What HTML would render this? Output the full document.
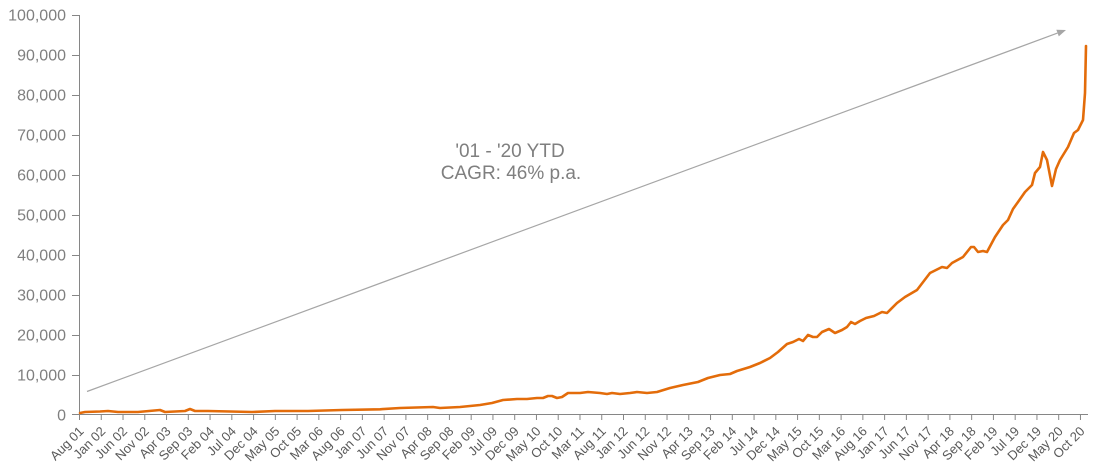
<!DOCTYPE html>
<html>
<head>
<meta charset="utf-8">
<style>
  html, body { margin: 0; padding: 0; background: #ffffff; }
  svg { display: block; }
  text { font-family: "Liberation Sans", Arial, sans-serif; }
</style>
</head>
<body>
<svg width="1101" height="463" viewBox="0 0 1101 463" xmlns="http://www.w3.org/2000/svg">
  <rect width="1101" height="463" fill="#ffffff"/>

  <!-- Y axis labels -->
  <g fill="#7f7f7f" font-size="16" text-anchor="end">
    <text x="66" y="20.5">100,000</text>
    <text x="66" y="60.5">90,000</text>
    <text x="66" y="100.5">80,000</text>
    <text x="66" y="140.5">70,000</text>
    <text x="66" y="180.5">60,000</text>
    <text x="66" y="220.5">50,000</text>
    <text x="66" y="260.5">40,000</text>
    <text x="66" y="300.5">30,000</text>
    <text x="66" y="340.5">20,000</text>
    <text x="66" y="380.5">10,000</text>
    <text x="66" y="420.5">0</text>
  </g>

  <!-- Axes -->
  <g stroke="#868686" stroke-width="1" fill="none">
    <line x1="79.5" y1="15" x2="79.5" y2="415"/>
    <line x1="79" y1="414.5" x2="1088" y2="414.5"/>
    <line x1="72" y1="15.5" x2="79.5" y2="15.5"/>
    <line x1="72" y1="55.5" x2="79.5" y2="55.5"/>
    <line x1="72" y1="95.5" x2="79.5" y2="95.5"/>
    <line x1="72" y1="135.5" x2="79.5" y2="135.5"/>
    <line x1="72" y1="175.5" x2="79.5" y2="175.5"/>
    <line x1="72" y1="215.5" x2="79.5" y2="215.5"/>
    <line x1="72" y1="255.5" x2="79.5" y2="255.5"/>
    <line x1="72" y1="295.5" x2="79.5" y2="295.5"/>
    <line x1="72" y1="335.5" x2="79.5" y2="335.5"/>
    <line x1="72" y1="375.5" x2="79.5" y2="375.5"/>
    <line x1="72" y1="414.5" x2="79.5" y2="414.5"/>
  </g>

  <!-- X ticks -->
  <g id="xticks" stroke="#868686" stroke-width="1"></g>
  <!-- X labels -->
  <g id="xlabels" fill="#595959" font-size="13" text-anchor="end"></g>

  <!-- Arrow -->
  <line x1="87" y1="391.5" x2="1057.5" y2="33.1" stroke="#a6a6a6" stroke-width="1.2"/>
  <polygon points="1066,30 1058.8,36.4 1056.3,29.8" fill="#a6a6a6"/>

  <!-- Annotation -->
  <g fill="#7f7f7f" font-size="19" text-anchor="middle">
    <text x="510" y="157">'01 - '20 YTD</text>
    <text x="511" y="179">CAGR: 46% p.a.</text>
  </g>

  <!-- Series -->
  <polyline fill="none" stroke="#e36c0a" stroke-width="2.6" stroke-linejoin="round" stroke-linecap="round"
    points="80,413 85,412 100,411.5 108,411 118,412 138,412 160,410 165,412 185,411 190,409 195,411 208,411 252,412 275,411 308,411 342,410 380,409.3 400,408 433,407 440,408 460,407 480,405 492,403 503,400 517,399 527,399 537,398 543,398 548,396 552,396 557,398 562,397 568,393 580,393 588,392 600,393 607,394 612,393 620,394 630,393 637,392 647,393 657,392 670,388 683,385 698,382 708,378 720,375 730,374 737,371 750,367 760,363 770,358 778,352 787,344 793,342 799,339 803,341 808,335 813,337 817,337 822,332 829,329 835,333 842,330 847,327 851,322 855,324 860,321 866,318 874,316 882,312 887,313 897,303 905,297 917,290 930,273 942,267 947,268 952,263 963,257 971,247 974,247 978,252 983,251 987,252 995,237 1003,225 1008,220 1013,209 1018,202 1025,192 1027,190 1032,185 1035,173 1040,167 1043,152 1047,160 1052,186 1056,169 1060,160 1068,147 1074,133 1078,130 1083,120 1085,93 1086,46"/>

  <script>
    (function(){
      var months = ["Jan","Feb","Mar","Apr","May","Jun","Jul","Aug","Sep","Oct","Nov","Dec"];
      var ns = "http://www.w3.org/2000/svg";
      var ticks = document.getElementById("xticks");
      var labels = document.getElementById("xlabels");
      for (var i = 0; i <= 46; i++) {
        var m = 7 + i*5;
        var yr = 1 + Math.floor(m/12);
        var mo = m % 12;
        var x = 79.5 + i*21.76;
        var t = document.createElementNS(ns, "line");
        t.setAttribute("x1", x); t.setAttribute("x2", x);
        t.setAttribute("y1", 414.5); t.setAttribute("y2", 420);
        ticks.appendChild(t);
        var tx = document.createElementNS(ns, "text");
        var ax = x + 5, ay = 432;
        tx.setAttribute("x", ax); tx.setAttribute("y", ay);
        tx.setAttribute("transform", "rotate(-45 " + ax + " " + ay + ")");
        tx.textContent = months[mo] + " " + (yr < 10 ? "0" + yr : "" + yr);
        labels.appendChild(tx);
      }
    })();
  </script>
</svg>
</body>
</html>
